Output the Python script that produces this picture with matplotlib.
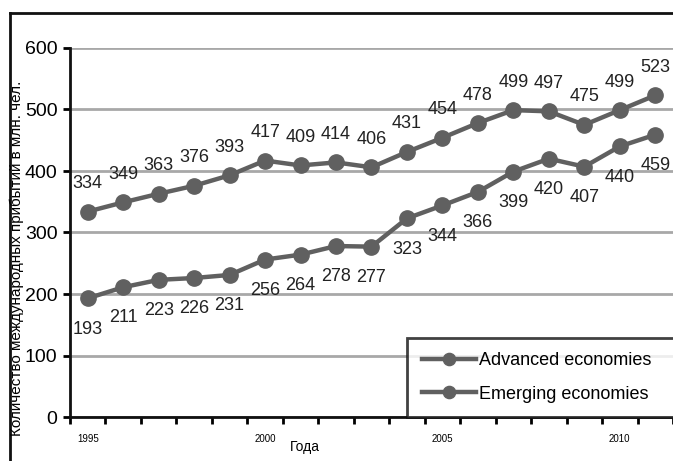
import matplotlib.pyplot as plt
from matplotlib.lines import Line2D
import numpy as np

years = list(range(1995, 2012))
advanced = [334, 349, 363, 376, 393, 417, 409, 414, 406, 431, 454, 478, 499, 497, 475, 499, 523]
emerging = [193, 211, 223, 226, 231, 256, 264, 278, 277, 323, 344, 366, 399, 420, 407, 440, 459]
year_labels = [1995, 2000, 2005, 2010]

plt.rcParams['font.family'] = ['Liberation Sans', 'DejaVu Sans']

line_color = '#606060'
fig = plt.figure(figsize=(6.73, 4.61), dpi=100)
ax = fig.add_axes([70 / 673, 1 - 417 / 461, 1 - 70 / 673, (417 - 48) / 461])

ax.plot(years, advanced, color=line_color, lw=3.2, marker='o', ms=11, label='Advanced economies', zorder=3)
ax.plot(years, emerging, color=line_color, lw=3.2, marker='o', ms=11, label='Emerging economies', zorder=3)

for x, v in zip(years, advanced):
    ax.annotate(str(v), (x, v), xytext=(0, 14), textcoords='offset points',
                ha='center', va='bottom', fontsize=13, color='#222222')
for x, v in zip(years, emerging):
    ax.annotate(str(v), (x, v), xytext=(0, -16), textcoords='offset points',
                ha='center', va='top', fontsize=13, color='#222222')

ax.set_xlim(1994.5, 2011.5)
ax.set_ylim(0, 600)
ax.set_yticks(np.arange(0, 700, 100))
ax.yaxis.grid(True, color='#a8a8a8', lw=2)
ax.set_axisbelow(True)
ax.tick_params(axis='y', labelsize=14, length=5, width=2, direction='out', pad=4)

# category boundaries as ticks, year labels centred on the points
ax.set_xticks(np.arange(1994.5, 2012, 1))
ax.set_xticklabels([])
ax.set_xticks(year_labels, minor=True)
ax.set_xticklabels([str(y) for y in year_labels], minor=True, fontsize=7)
ax.tick_params(axis='x', which='major', length=5, width=2)
ax.tick_params(axis='x', which='minor', length=0, pad=12)

for s in ['top', 'right']:
    ax.spines[s].set_visible(False)
for s in ['left', 'bottom']:
    ax.spines[s].set_linewidth(2)
    ax.spines[s].set_color('#111111')

fig.text(17 / 673, 1 - 258 / 461, 'Количество международных прибытий в млн. чел.',
         rotation=90, ha='center', va='center', fontsize=11)
fig.text(305 / 673, 1 - 447 / 461, 'Года', ha='center', va='center', fontsize=10)

leg = ax.legend(loc='lower left', bbox_to_anchor=(0.559, 0.0, 0.46, 0.2), mode='expand',
                fontsize=13, frameon=True, fancybox=False, edgecolor='#111111',
                handlelength=3, labelspacing=0.9, borderpad=0.8, handletextpad=0.2,
                markerscale=0.8, borderaxespad=0)
leg.get_frame().set_linewidth(2)
leg.set_clip_on(False)

# outer frame lines
fig.add_artist(Line2D([10 / 673, 1], [1 - 13 / 461, 1 - 13 / 461], color='#111111', lw=2))
fig.add_artist(Line2D([10 / 673, 10 / 673], [0, 1 - 13 / 461], color='#111111', lw=2))

fig.savefig('out.png', dpi=100)
